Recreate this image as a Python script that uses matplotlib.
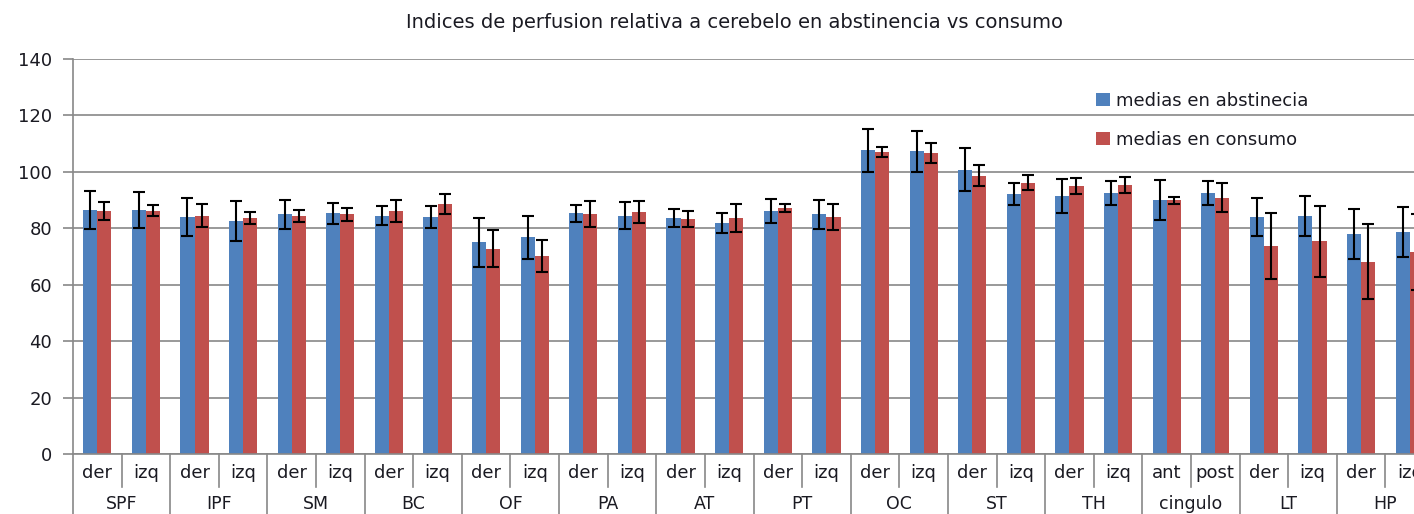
import numpy as np
import matplotlib
matplotlib.use("Agg")
import matplotlib.pyplot as plt
import matplotlib.transforms as mtransforms
from matplotlib.lines import Line2D

# regions and sub-labels
groups = ["SPF", "IPF", "SM", "BC", "OF", "PA", "AT", "PT", "OC", "ST", "TH", "cingulo", "LT", "HP"]
sub_labels = ["der", "izq"] * 11 + ["ant", "post"] + ["der", "izq"] * 2

abst = [86.6, 86.6, 84.0, 82.6, 85.0, 85.3, 84.5, 84.0, 75.0, 76.8,
        85.3, 84.5, 83.6, 81.8, 86.2, 84.9, 107.7, 107.3, 100.8, 92.2,
        91.4, 92.5, 90.1, 92.5, 84.0, 84.4, 78.0, 78.8]
abst_err = [6.7, 6.4, 6.9, 7.0, 5.1, 3.8, 3.4, 3.9, 8.8, 7.7,
            3.1, 4.7, 3.2, 3.6, 4.3, 5.3, 7.6, 7.2, 7.5, 4.0,
            5.9, 4.1, 7.1, 4.3, 6.9, 7.1, 8.8, 8.9]
cons = [86.2, 86.2, 84.5, 83.6, 84.5, 85.0, 86.2, 88.5, 72.8, 70.2,
        85.0, 85.7, 83.2, 83.6, 87.3, 84.0, 107.1, 106.7, 98.7, 96.1,
        94.9, 95.3, 89.9, 90.9, 73.7, 75.4, 68.2, 71.5]
cons_err = [3.2, 2.0, 4.0, 2.1, 2.1, 2.3, 3.8, 3.6, 6.5, 5.7,
            4.7, 3.8, 2.8, 4.9, 1.4, 4.7, 1.8, 3.4, 3.8, 2.7,
            2.8, 2.8, 1.2, 5.0, 11.8, 12.5, 13.4, 13.4]

W, H = 1414, 514
fig = plt.figure(figsize=(W / 100, H / 100), dpi=100)
ax = fig.add_axes([73 / W, (H - 454) / H, 1361 / W, 395 / H])

grey = "#888888"
txt = "#1a1a22"
fs = 13

x = np.arange(len(sub_labels))
bw = 0.29
ax.bar(x - bw / 2, abst, bw, color="#4F81BD", label="medias en abstinecia", zorder=2)
ax.bar(x + bw / 2, cons, bw, color="#C0504D", label="medias en consumo", zorder=2)
ek = dict(fmt="none", ecolor="black", elinewidth=1.5, capsize=4, capthick=1.5, zorder=3)
ax.errorbar(x - bw / 2, abst, yerr=abst_err, **ek)
ax.errorbar(x + bw / 2, cons, yerr=cons_err, **ek)

ax.set_xlim(-0.5, len(x) - 0.5)
ax.set_ylim(0, 140)
ax.set_yticks(np.arange(0, 141, 20))
ax.yaxis.grid(True, color=grey, linewidth=1.2, zorder=0)
ax.set_axisbelow(True)
for s in ["top", "right"]:
    ax.spines[s].set_visible(False)
for s in ["left", "bottom"]:
    ax.spines[s].set_color(grey)
    ax.spines[s].set_linewidth(1.2)
ax.tick_params(axis="y", length=7, color=grey, width=1.2, labelsize=fs, labelcolor=txt, pad=8)

ax.set_xticks(x)
ax.set_xticklabels(sub_labels)
ax.tick_params(axis="x", length=0, labelsize=fs, labelcolor=txt, pad=7)

# category separators below the axis
trans = mtransforms.blended_transform_factory(ax.transData, ax.transAxes)
for k in range(len(x) + 1):
    y_end = -0.7 if k % 2 == 0 else -33 / 395
    ax.add_line(Line2D([k - 0.5, k - 0.5], [0, y_end], transform=trans,
                       color=grey, linewidth=1.2, clip_on=False))
for i, g in enumerate(groups):
    ax.text(2 * i + 0.5, -50 / 395, g, transform=trans, ha="center", va="center",
            fontsize=12.5, color=txt)

fig.text(735 / W, 1 - 22 / H, "Indices de perfusion relativa a cerebelo en abstinencia vs consumo",
         ha="center", va="center", fontsize=14, color=txt)

fig.legend(loc="upper left", bbox_to_anchor=(1087 / W, 1 - 83 / H), frameon=False,
           fontsize=fs, labelspacing=1.15, handlelength=0.75, handleheight=0.75,
           handletextpad=0.35, borderpad=0, labelcolor=txt)

fig.savefig("out.png", dpi=100)
